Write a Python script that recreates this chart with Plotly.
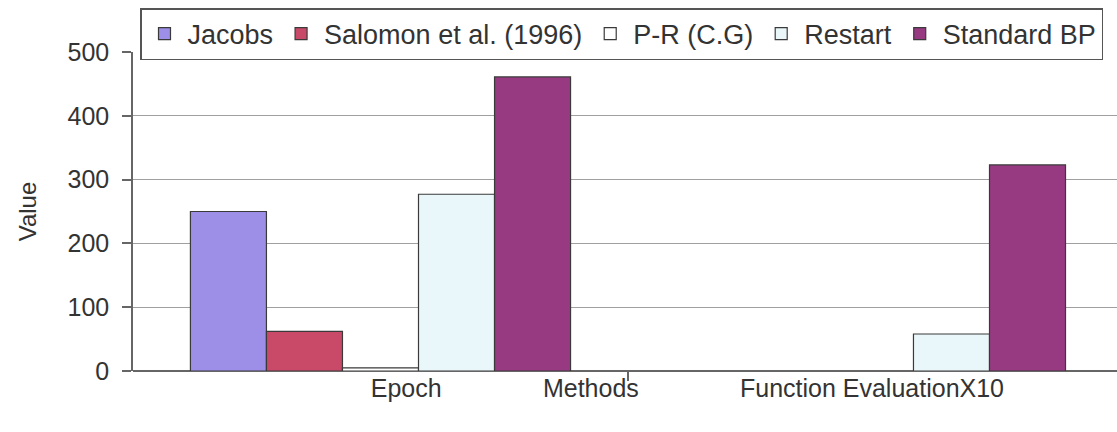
import plotly.graph_objects as go

categories = ["Epoch", "Function EvaluationX10"]
series_names = ["Jacobs", "Salomon et al. (1996)", "P-R (C.G)", "Restart", "Standard BP"]
jacobs = [250, None]
salomon = [62, None]
pr_cg = [5, None]
restart = [277, 58]
standard_bp = [461, 323]
y_ticks = [0, 100, 200, 300, 400, 500]
x_label_text = ["Epoch", "Methods", "Function EvaluationX10"]

colors = ["#9d8ee8", "#c84a68", "#ffffff", "#eaf7fa", "#973a82"]
values = [jacobs, salomon, pr_cg, restart, standard_bp]

FONT = "Liberation Sans, Arial, sans-serif"
xpos = [0, 1]

fig = go.Figure()
for name, vals, col in zip(series_names, values, colors):
    fig.add_trace(go.Bar(
        x=xpos, y=vals, name=name,
        marker=dict(color=col, line=dict(color="#3a3a3a", width=1.2)),
    ))

fig.update_layout(
    width=1117, height=432,
    margin=dict(l=133, r=0, t=52, b=61, autoexpand=False),
    paper_bgcolor="white", plot_bgcolor="white",
    barmode="group", bargap=0.232, bargroupgap=0,
    font=dict(family=FONT, size=25, color="#333333"),
    showlegend=True,
    legend=dict(
        orientation="h", xref="container", x=140/1117, xanchor="left",
        yref="container", y=1 - 8/432, yanchor="top",
        bgcolor="white", bordercolor="#555555", borderwidth=1.5,
        font=dict(size=27, color="#333333"),
        traceorder="normal", itemwidth=36,
    ),
    xaxis=dict(
        range=[-0.5, 1.488], showgrid=False, zeroline=False,
        showline=False,
        tickmode="array", tickvals=[0.052, 0.425, 0.993], ticktext=x_label_text,
        ticks="", ticklen=0,
        minor=dict(tickmode="array", tickvals=[0.5], ticks="outside", ticklen=9,
                   tickcolor="#666666", tickwidth=1.5, showgrid=False),
        tickfont=dict(size=25, color="#333333"),
        fixedrange=True,
    ),
    yaxis=dict(
        range=[0, 500], tickmode="array", tickvals=y_ticks,
        showgrid=True, gridcolor="#a0a0a0", gridwidth=1,
        zeroline=True, zerolinecolor="#666666", zerolinewidth=1.5,
        showline=True, linecolor="#666666", linewidth=1.5,
        ticks="outside", ticklen=9, tickcolor="#666666", tickwidth=1.5,
        ticklabelstandoff=8,
        tickfont=dict(size=25, color="#333333"),
        title=dict(text="Value", font=dict(size=24, color="#333333"), standoff=24),
        fixedrange=True,
    ),
)

fig.write_html("out.html")
